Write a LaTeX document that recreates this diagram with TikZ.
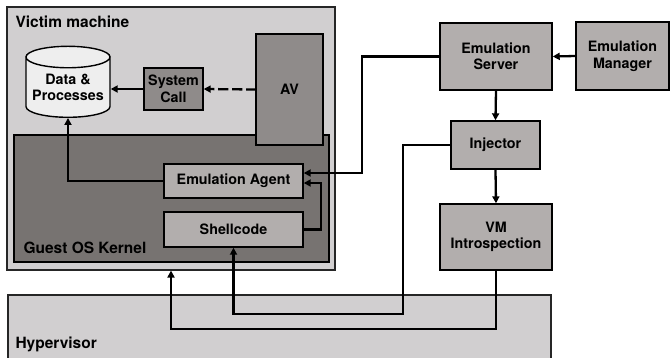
\documentclass[tikz,border=0pt]{standalone}
\usepackage{fontspec}
\setmainfont{TeX Gyre Heros}
\usepackage{tikz}
\usetikzlibrary{arrows.meta,shapes.geometric}
\usepackage{xcolor}
\definecolor{shellgray}{HTML}{D1CFD0}
\definecolor{kernelgray}{HTML}{777371}
\definecolor{boxgray}{HTML}{B2AEAD}
\definecolor{avgray}{HTML}{8F8B8A}
\definecolor{dbgray}{HTML}{EEEEEE}

\begin{document}
\begin{tikzpicture}[x=1pt,y=-1pt,>={Triangle[length=7pt,width=7pt]},line cap=rect,
  font=\bfseries\fontsize{14.3}{16.5}\selectfont,
  area/.style={draw=black!85,line width=1.1pt,inner sep=0pt},
  unit/.style={draw=black,line width=1.4pt,fill=boxgray,inner sep=0pt,align=center},
  link/.style={draw=black,line width=2.3pt},
  tag/.style={anchor=base west,font=\bfseries\fontsize{15.5}{17}\selectfont}]
\useasboundingbox (0,0) rectangle (670,357);
\node[area,fill=shellgray,minimum width=543pt,minimum height=66pt] (hyper) at (279.5,328) {};
\node[area,fill=shellgray,minimum width=328pt,minimum height=263pt] (victim) at (171,138.5) {};
\node[area,draw=black,line width=1.4pt,fill=kernelgray,minimum width=315pt,minimum height=127pt] (kernel) at (171.5,198.5) {};
\node[unit,fill=avgray,minimum width=67pt,minimum height=111pt] (av) at (289.5,89.5) {AV};
\node[unit,fill=avgray,minimum width=59pt,minimum height=42pt] (syscall) at (173.5,89) {System\\Call};
\node[cylinder,shape border rotate=90,aspect=0.3,draw=black,line width=1.4pt,fill=dbgray,
  minimum width=84pt,minimum height=71pt,inner sep=0pt,align=center] (db) at (68,87.5) {Data \&\\Processes};
\node[unit,minimum width=139pt,minimum height=34pt] (agent) at (233.5,181) {Emulation Agent};
\node[unit,minimum width=139pt,minimum height=35pt] (shell) at (233.5,229.5) {Shellcode};
\node[unit,minimum width=112pt,minimum height=67pt] (server) at (496,56.5) {Emulation\\Server};
\node[unit,minimum width=93pt,minimum height=68pt] (manager) at (622.5,56) {Emulation\\Manager};
\node[unit,minimum width=89pt,minimum height=48pt] (injector) at (495.5,145) {Injector};
\node[unit,minimum width=112pt,minimum height=66pt] (vmi) at (496,237) {VM\\Introspection};
\node[tag] (victimlabel) at (12,27) {Victim machine};
\node[tag] (kernellabel) at (20,253) {Guest OS Kernel};
\node[tag] (hyperlabel) at (12,348) {Hypervisor};
\coordinate (injturn) at (403,314);
\draw[link,->] (manager.west) -- (server.east);
\draw[link,->] (server.south) -- (injector.north);
\draw[link,->] (injector.south) -- (vmi.north);
\draw[link,->] (server.west) -- ++(-77,0) |- ([yshift=8pt]agent.east);
\draw[link,->] (shell.east) -- ++(17,0) |- ([yshift=-2pt]agent.east);
\draw[link,->] (agent.west) -| (db.south);
\draw[link,->] (syscall.west) -- (syscall.west -| db.east);
\draw[link,->,dash pattern=on 8pt off 6pt] (av.west) -- (syscall.east);
\draw[link,->] (injector.west) -| (injturn) -| (shell.south);
\draw[link,->] (vmi.south) -- ++(0,58) -| (victim.south);
\end{tikzpicture}
\end{document}
